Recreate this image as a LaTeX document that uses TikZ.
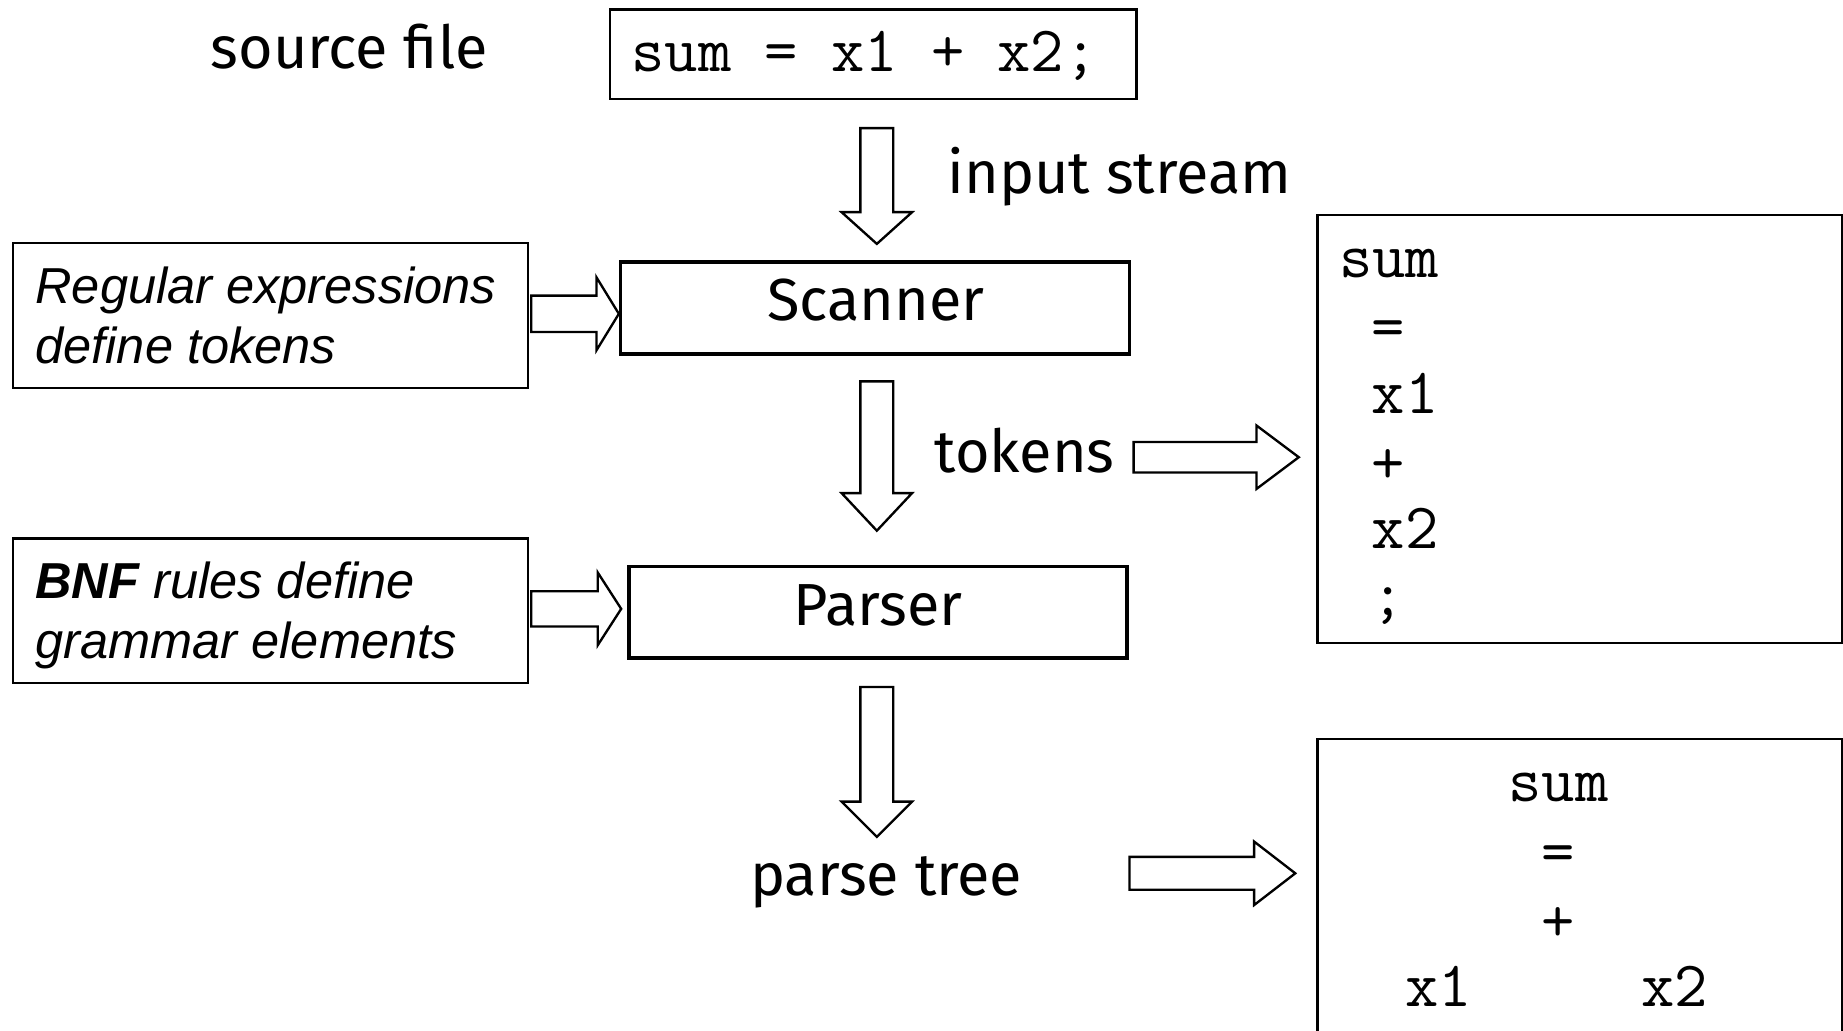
\documentclass[tikz,border=0pt]{standalone}
\usepackage{fontspec}
\usetikzlibrary{calc}
\newfontfamily\labelfont{Fira Sans}
\newfontfamily\notefont{Liberation Sans}
\tikzset{
  box/.style={draw, line width=2pt, rectangle, inner sep=0pt},
  stage/.style={draw, line width=3pt, rectangle, inner sep=0pt},
  lbl/.style={inner sep=0pt, font=\labelfont\fontsize{50.5}{60}\selectfont},
  code/.style={inner sep=0pt, font=\ttfamily\fontsize{55}{60}\selectfont},
  note/.style={inner sep=0pt, align=left, font=\notefont\itshape\fontsize{43}{51}\selectfont},
  blk/.style={draw, line width=2pt, fill=white, line join=miter},
  blkdown/.style n args={3}{to path={let \p1=(\tikztostart), \p2=(\tikztotarget) in
    (\x1-#1,\y1) -- (\x1+#1,\y1) -- (\x1+#1,\y2+#3) -- (\x1+#2,\y2+#3) -- (\x1,\y2)
    -- (\x1-#2,\y2+#3) -- (\x1-#1,\y2+#3) -- cycle}},
  blkright/.style n args={3}{to path={let \p1=(\tikztostart), \p2=(\tikztotarget) in
    (\x1,\y2+#1) -- (\x2-#3,\y2+#1) -- (\x2-#3,\y2+#2) -- (\x2,\y2)
    -- (\x2-#3,\y2-#2) -- (\x2-#3,\y2-#1) -- (\x1,\y2-#1) -- cycle}},
}
\begin{document}
\begin{tikzpicture}[x=1pt, y=-1pt]
  \useasboundingbox (0,0) rectangle (1568,877);

  % source line and labels
  \node[lbl, anchor=base] (srclbl) at (297,58) {source file};
  \node[box, minimum width=448pt, minimum height=76pt] (src) at (743,46) {};
  \node[code, anchor=base west] (srccode) at (537,61) {sum = x1 + x2;};

  % processing stages
  \node[stage, minimum width=433pt, minimum height=78pt] (scan) at (744.5,262) {};
  \node[lbl, anchor=base] (scantxt) at (745,273) {Scanner};
  \node[stage, minimum width=424pt, minimum height=78pt] (parse) at (747,521) {};
  \node[lbl, anchor=base] (parsetxt) at (747,532) {Parser};

  % definitions feeding the stages
  \node[box, minimum width=438pt, minimum height=123pt] (regex) at (230,268.5) {};
  \node[note, anchor=base west] (regextxt) at (30,309) {Regular expressions\\define tokens};
  \node[box, minimum width=438pt, minimum height=123pt] (bnf) at (230,519.5) {};
  \node[note, anchor=base west] (bnftxt) at (30,560) {\bfseries BNF\mdseries{} rules define\\grammar elements};

  % stream labels
  \node[lbl, anchor=base west] (instream) at (806,165) {input stream};
  \node[lbl, anchor=base west] (tokens) at (795,402) {tokens};
  \node[lbl, anchor=base] (treelbl) at (754,762) {parse tree};
  \coordinate (treetip) at (746,712);

  % token list
  \node[box, minimum width=446pt, minimum height=364pt] (toklist) at (1344,365) {};
  \node[code, anchor=base west] (t1) at (1139,236) {sum};
  \node[code, anchor=base west] (t2) at (1167,296) {=};
  \node[code, anchor=base west] (t3) at (1167,352) {x1};
  \node[code, anchor=base west] (t4) at (1167,411) {+};
  \node[code, anchor=base west] (t5) at (1167,467) {x2};
  \node[code, anchor=base west] (t6) at (1167,524) {;};

  % parse tree
  \node[box, minimum width=446pt, minimum height=300pt] (tree) at (1344,779) {};
  \node[code, anchor=base] (n1) at (1326,682) {sum};
  \node[code, anchor=base] (n2) at (1326,742) {=};
  \node[code, anchor=base] (n3) at (1326,801) {+};
  \node[code, anchor=base] (n4) at (1224,856) {x1};
  \node[code, anchor=base] (n5) at (1425,856) {x2};

  % block arrows
  \draw[blk] ([xshift=3pt,yshift=-24pt]src.south) to[blkdown={14pt}{30pt}{27pt}] ([xshift=1.5pt,yshift=14pt]scan.north);
  \draw[blk] ([xshift=1.5pt,yshift=-22pt]scan.south) to[blkdown={14pt}{30pt}{32pt}] ([xshift=-1pt,yshift=29pt]parse.north);
  \draw[blk] ([xshift=-1pt,yshift=-23pt]parse.south) to[blkdown={14pt}{30pt}{30pt}] (treetip);

  \draw[blk] ([xshift=2pt]regex.east) to[blkright={15.5pt}{31pt}{19pt}] ([yshift=-5pt]scan.west);
  \draw[blk] ([xshift=2pt]bnf.east) to[blkright={15pt}{31pt}{20pt}] ([xshift=-5pt,yshift=3pt]parse.west);
  \draw[blk] ([xshift=16pt,yshift=-4pt]tokens.east) to[blkright={13pt}{27pt}{36pt}] ($(toklist.west)+(-15,24)$);
  \draw[blk] ([xshift=91pt,yshift=2pt]treelbl.east) to[blkright={14pt}{27pt}{35pt}] ($(tree.west)+(-18,-36)$);
\end{tikzpicture}
\end{document}
